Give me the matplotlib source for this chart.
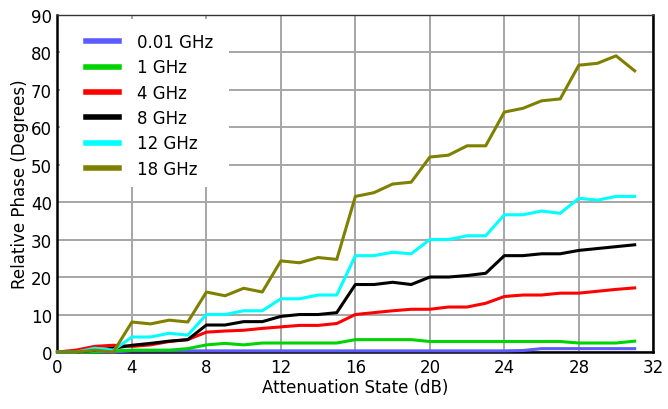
import matplotlib
matplotlib.use("Agg")
import matplotlib.pyplot as plt
from matplotlib.patches import Rectangle

# data ---------------------------------------------------------------------
states = list(range(32))
labels = ["0.01 GHz", "1 GHz", "4 GHz", "8 GHz", "12 GHz", "18 GHz"]
colors = ["#5b5bff", "#00d400", "#ff0000", "#000000", "#00ffff", "#808000"]

ph_001 = [0, 0, 0, 0, 0.3, 0.3, 0.3, 0.3, 0.3, 0.3, 0.3, 0.3, 0.3, 0.3, 0.3, 0.3,
          0.3, 0.3, 0.3, 0.3, 0.3, 0.3, 0.3, 0.3, 0.3, 0.4, 0.9, 0.9, 0.9, 0.9, 0.9, 0.9]
ph_1 = [0, 0, 0, 0.3, 0.5, 0.5, 0.5, 0.9, 1.9, 2.3, 1.9, 2.4, 2.4, 2.4, 2.4, 2.4,
        3.3, 3.3, 3.3, 3.3, 2.8, 2.8, 2.8, 2.8, 2.8, 2.8, 2.8, 2.8, 2.4, 2.4, 2.4, 2.9]
ph_4 = [0, 0.5, 1.5, 1.8, 1.5, 1.9, 2.8, 3.3, 5.3, 5.6, 5.8, 6.3, 6.7, 7.1, 7.1, 7.6,
        10.0, 10.5, 11.0, 11.4, 11.4, 12.0, 12.0, 13.0, 14.8, 15.2, 15.2, 15.7, 15.7, 16.2, 16.7, 17.1]
ph_8 = [0, 0, 0.5, 1.0, 1.8, 2.3, 2.9, 3.3, 7.2, 7.2, 8.1, 8.1, 9.5, 10.0, 10.0, 10.5,
        18.0, 18.0, 18.6, 18.0, 20.0, 20.0, 20.4, 21.0, 25.7, 25.7, 26.2, 26.2, 27.1, 27.6, 28.1, 28.6]
ph_12 = [0, 0, 1.0, 0.5, 4.0, 4.0, 5.0, 4.5, 10.0, 10.0, 11.0, 11.0, 14.2, 14.2, 15.2, 15.2,
         25.7, 25.7, 26.6, 26.2, 30.0, 30.0, 31.0, 31.0, 36.6, 36.6, 37.6, 37.0, 41.0, 40.5, 41.5, 41.5]
ph_18 = [0, 0, 0.5, 0, 8.0, 7.5, 8.5, 8.0, 16.0, 15.0, 17.0, 16.0, 24.3, 23.8, 25.2, 24.7,
         41.5, 42.5, 44.8, 45.3, 52.0, 52.5, 55.0, 55.0, 64.0, 65.0, 67.0, 67.5, 76.5, 77.0, 79.0, 75.0]
series = [ph_001, ph_1, ph_4, ph_8, ph_12, ph_18]

xticks = list(range(0, 33, 4))
yticks = list(range(0, 91, 10))

# figure -------------------------------------------------------------------
fig = plt.figure(figsize=(6.68, 4.10), dpi=100)
ax = fig.add_axes([0.086, 0.139, 0.892, 0.823])

for ys, lab, col in zip(series, labels, colors):
    ax.plot(states, ys, color=col, lw=2.2, label=lab, zorder=3, clip_on=False)

ax.set_xlim(0, 32)
ax.set_ylim(0, 90)
ax.set_xticks(xticks)
ax.set_yticks(yticks)
ax.tick_params(length=0, labelsize=12, pad=4)
ax.grid(True, color="#a6a6a6", lw=1.4, zorder=0)
ax.set_axisbelow(True)

for side in ("left", "bottom", "right"):
    ax.spines[side].set_linewidth(1.8)
    ax.spines[side].set_color("black")
ax.spines["top"].set_linewidth(1.0)
ax.spines["top"].set_color("#333333")

ax.set_xlabel("Attenuation State (dB)", fontsize=12, labelpad=2)
ax.set_ylabel("Relative Phase (Degrees)", fontsize=12, labelpad=1)

# white block behind the legend hides the grid there
ax.add_patch(Rectangle((0.004, 0.49), 0.284, 0.498, transform=ax.transAxes,
                       facecolor="white", edgecolor="none", zorder=1))

leg = ax.legend(loc="upper left", bbox_to_anchor=(0.048, 0.945), fontsize=12,
                frameon=False, borderpad=0, borderaxespad=0,
                handlelength=2.0, handletextpad=1.05, labelspacing=0.44)
for h in leg.get_lines():
    h.set_linewidth(4)

fig.savefig("out.png", dpi=100, facecolor="white")
